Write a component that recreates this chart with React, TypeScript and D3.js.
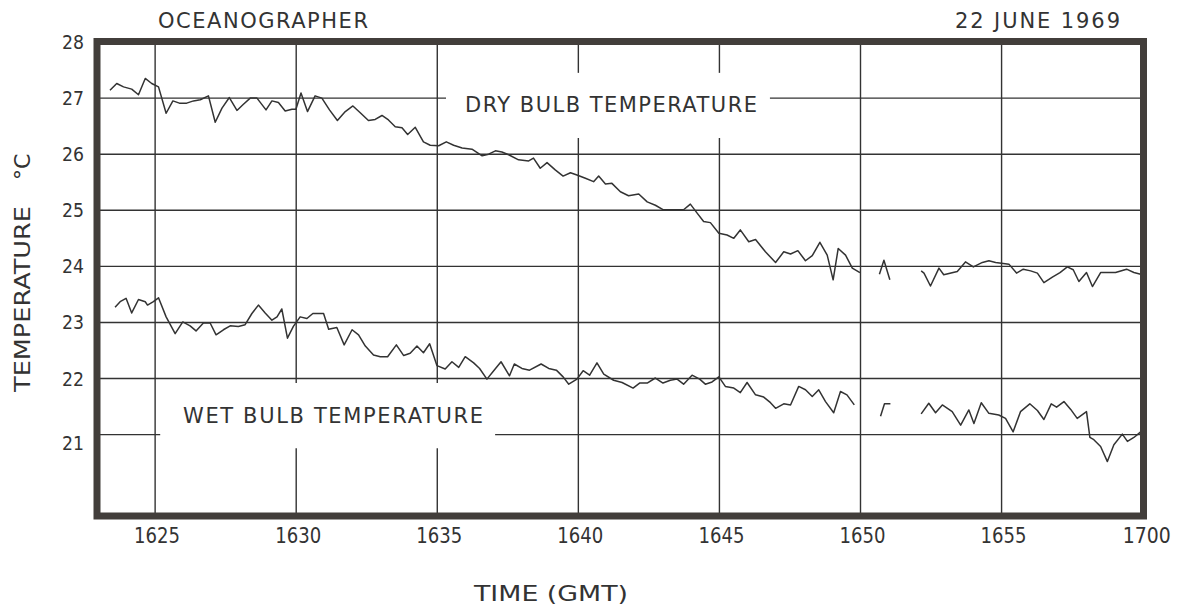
import React from "react";
import * as d3 from "d3";

// time in minutes after 16:00 GMT, temperature in °C; null = break in record
const dryTime: (number)[] = [
  23.40, 23.64, 23.88, 24.17, 24.41, 24.65, 24.88, 25.12, 25.39, 25.63, 25.86, 26.12, 26.36, 26.60, 26.89,
  27.13, 27.37, 27.63, 27.90, 28.13, 28.37, 28.61, 28.93, 29.14, 29.37, 29.61, 29.85, 29.99, 30.17, 30.40,
  30.67, 30.91, 31.18, 31.46, 31.74, 32.01, 32.27, 32.56, 32.80, 33.04, 33.27, 33.51, 33.75, 33.95, 34.22,
  34.51, 34.75, 35.05, 35.32, 35.58, 35.88, 36.23, 36.59, 36.82, 37.06, 37.29, 37.53, 37.88, 38.24, 38.41,
  38.65, 38.89, 39.18, 39.46, 39.72, 39.95, 40.25, 40.54, 40.72, 40.96, 41.19, 41.49, 41.78, 42.14, 42.44,
  42.73, 43.00, 43.32, 43.73, 43.97, 44.21, 44.44, 44.68, 44.98, 45.27, 45.51, 45.74, 46.04, 46.28, 46.63,
  46.99, 47.28, 47.52, 47.78, 48.05, 48.29, 48.56, 48.82, 49.03, 49.21, 49.47, 49.71, 49.98,
  50.30,
  50.67, 50.83, 51.04,
  51.60,
  52.15, 52.25, 52.48, 52.78, 52.95, 53.43, 53.72, 54.00, 54.32, 54.55, 54.79, 55.26, 55.53, 55.77, 56.03,
  56.27, 56.50, 56.80, 57.07, 57.33, 57.54, 57.74, 58.01, 58.22, 58.51, 59.04, 59.43, 59.69, 59.93,
];
const dryTemp: (number | null)[] = [
  27.14, 27.26, 27.20, 27.16, 27.06, 27.35, 27.26, 27.20, 26.73, 26.95, 26.91, 26.91, 26.95, 26.97, 27.04,
  26.57, 26.82, 27.01, 26.78, 26.89, 27.00, 27.00, 26.79, 26.95, 26.92, 26.77, 26.80, 26.80, 27.09, 26.76,
  27.04, 27.00, 26.79, 26.60, 26.76, 26.86, 26.74, 26.60, 26.62, 26.69, 26.61, 26.49, 26.47, 26.35, 26.48,
  26.22, 26.16, 26.15, 26.22, 26.16, 26.11, 26.09, 25.97, 26.00, 26.06, 26.04, 25.99, 25.90, 25.88, 25.93,
  25.75, 25.85, 25.72, 25.61, 25.67, 25.63, 25.57, 25.51, 25.61, 25.47, 25.48, 25.33, 25.26, 25.29, 25.15,
  25.09, 25.01, 25.01, 25.01, 25.11, 24.95, 24.80, 24.78, 24.59, 24.56, 24.50, 24.65, 24.44, 24.48, 24.26,
  24.07, 24.26, 24.22, 24.28, 24.10, 24.19, 24.43, 24.20, 23.76, 24.32, 24.20, 23.97, 23.89,
  null,
  23.86, 24.11, 23.76,
  null,
  23.92, 23.88, 23.65, 23.97, 23.85, 23.91, 24.08, 23.99, 24.07, 24.10, 24.07, 24.04, 23.88, 23.95, 23.92,
  23.88, 23.71, 23.81, 23.89, 23.99, 23.94, 23.73, 23.89, 23.64, 23.89, 23.89, 23.95, 23.89, 23.86,
];

const wetTime: number[] = [
  23.58, 23.76, 23.97, 24.17, 24.41, 24.65, 24.73, 24.94, 25.12, 25.39, 25.71, 25.98, 26.24, 26.45, 26.71,
  26.95, 27.16, 27.42, 27.66, 27.95, 28.19, 28.43, 28.66, 28.90, 29.14, 29.32, 29.49, 29.69, 29.90, 30.14,
  30.38, 30.59, 30.97, 31.15, 31.44, 31.70, 31.98, 32.21, 32.45, 32.74, 32.98, 33.24, 33.55, 33.81, 34.04,
  34.28, 34.51, 34.73, 34.99, 35.28, 35.52, 35.76, 35.99, 36.29, 36.50, 36.76, 37.00, 37.26, 37.56, 37.73,
  38.00, 38.27, 38.68, 38.95, 39.22, 39.46, 39.66, 39.95, 40.17, 40.40, 40.66, 40.90, 41.25, 41.55, 41.94,
  42.17, 42.44, 42.73, 43.00, 43.26, 43.50, 43.73, 44.03, 44.30, 44.50, 44.74, 44.98, 45.21, 45.51, 45.74,
  45.98, 46.28, 46.57, 46.81, 46.99, 47.28, 47.52, 47.81, 48.05, 48.29, 48.52, 48.76, 49.05, 49.29, 49.52,
  49.78,
  50.30,
  50.71, 50.85, 51.06,
  51.60,
  52.15, 52.42, 52.66, 52.90, 53.25, 53.55, 53.84, 54.02, 54.28, 54.55, 54.90, 55.14, 55.41, 55.67, 56.00,
  56.27, 56.50, 56.76, 56.95, 57.21, 57.45, 57.68, 58.01, 58.13, 58.27, 58.51, 58.75, 58.98, 59.28, 59.46,
  59.69, 59.93,
];
const wetTemp: (number | null)[] = [
  23.27, 23.37, 23.43, 23.17, 23.41, 23.37, 23.31, 23.37, 23.44, 23.10, 22.80, 23.01, 22.94, 22.85, 22.99,
  22.99, 22.78, 22.87, 22.94, 22.93, 22.96, 23.16, 23.31, 23.17, 23.04, 23.10, 23.24, 22.72, 22.93, 23.10,
  23.07, 23.16, 23.16, 22.88, 22.91, 22.60, 22.87, 22.78, 22.58, 22.42, 22.39, 22.39, 22.60, 22.41, 22.45,
  22.58, 22.46, 22.62, 22.23, 22.17, 22.30, 22.20, 22.39, 22.28, 22.18, 21.99, 22.14, 22.30, 22.05, 22.26,
  22.18, 22.15, 22.26, 22.18, 22.15, 22.03, 21.90, 21.99, 22.14, 22.06, 22.28, 22.08, 21.97, 21.93, 21.83,
  21.92, 21.92, 22.01, 21.92, 21.97, 21.99, 21.90, 22.06, 21.99, 21.90, 21.94, 22.03, 21.86, 21.83, 21.75,
  21.93, 21.71, 21.67, 21.57, 21.47, 21.55, 21.53, 21.86, 21.80, 21.68, 21.80, 21.59, 21.39, 21.77, 21.71,
  21.53,
  null,
  21.33, 21.55, 21.55,
  null,
  21.37, 21.56, 21.39, 21.53, 21.41, 21.17, 21.44, 21.20, 21.57, 21.38, 21.35, 21.29, 21.05, 21.41, 21.55,
  21.43, 21.27, 21.55, 21.49, 21.59, 21.45, 21.29, 21.41, 20.95, 20.91, 20.79, 20.52, 20.82, 21.01, 20.88,
  20.95, 21.05,
];

const yTicks: number[] = [28, 27, 26, 25, 24, 23, 22, 21];
const xTicks: number[] = [25, 30, 35, 40, 45, 50, 55, 60];
const xTickLabels: string[] = ["1625", "1630", "1635", "1640", "1645", "1650", "1655", "1700"];
const timeDomain: [number, number] = [22.94, 60.03];
const tempDomain: [number, number] = [19.55, 28];

// gridline interruptions around the in-plot labels
const dryLabelGapTimes: number[] = [40, 45];
const dryLabelGapTemps: [number, number] = [27.45, 26.29];
const wetLabelGapTimes: number[] = [30, 35];
const wetLabelGapTemps: [number, number] = [21.92, 20.76];
const gridGap27: [number, number] = [35.31, 46.79];
const gridGap21: [number, number] = [25.18, 37.05];

const INK = "#333";
const FRAME = "#423e3b";
const FONT = "'DejaVu Sans', sans-serif";

export default function App() {
  const left = 97, right = 1143.5, top = 41.5, bottom = 516;
  const x = d3.scaleLinear().domain(timeDomain).range([left, right]);
  const y = d3.scaleLinear().domain(tempDomain).range([bottom, 42]);

  type P = { t: number; v: number | null };
  const dry: P[] = dryTime.map((t, i) => ({ t, v: dryTemp[i] }));
  const wet: P[] = wetTime.map((t, i) => ({ t, v: wetTemp[i] }));
  const line = d3
    .line<P>()
    .defined((d) => d.v != null)
    .x((d) => x(d.t))
    .y((d) => y(d.v as number));

  const vLines: JSX.Element[] = [];
  xTicks.forEach((t) => {
    if (t >= 60) return;
    const px = x(t);
    if (dryLabelGapTimes.includes(t)) {
      vLines.push(<line key={`v${t}a`} x1={px} x2={px} y1={top} y2={y(dryLabelGapTemps[0])} />);
      vLines.push(<line key={`v${t}b`} x1={px} x2={px} y1={y(dryLabelGapTemps[1])} y2={bottom} />);
    } else if (wetLabelGapTimes.includes(t)) {
      vLines.push(<line key={`v${t}a`} x1={px} x2={px} y1={top} y2={y(wetLabelGapTemps[0])} />);
      vLines.push(<line key={`v${t}b`} x1={px} x2={px} y1={y(wetLabelGapTemps[1])} y2={bottom} />);
    } else {
      vLines.push(<line key={`v${t}`} x1={px} x2={px} y1={top} y2={bottom} />);
    }
  });

  const hLines: JSX.Element[] = [];
  yTicks.forEach((v) => {
    if (v >= 28) return;
    const py = y(v);
    if (v === 27) {
      hLines.push(<line key={`h${v}a`} x1={left} x2={x(gridGap27[0])} y1={py} y2={py} />);
      hLines.push(<line key={`h${v}b`} x1={x(gridGap27[1])} x2={right} y1={py} y2={py} />);
    } else if (v === 21) {
      hLines.push(<line key={`h${v}a`} x1={left} x2={x(gridGap21[0])} y1={py} y2={py} />);
      hLines.push(<line key={`h${v}b`} x1={x(gridGap21[1])} x2={right} y1={py} y2={py} />);
    } else {
      hLines.push(<line key={`h${v}`} x1={left} x2={right} y1={py} y2={py} />);
    }
  });

  const sq = "spacingAndGlyphs";
  const sp = "spacing";

  return (
    <svg
      width={1189}
      height={609}
      style={{ position: "absolute", left: 0, top: 0, background: "#fff" }}
      fontFamily={FONT}
    >
      <rect x={0} y={0} width={1189} height={609} fill="#fff" />
      <g stroke={INK} strokeWidth={1.4}>
        {vLines}
        {hLines}
      </g>
      <path d={line(dry) || ""} fill="none" stroke={INK} strokeWidth={1.5} strokeLinejoin="round" />
      <path d={line(wet) || ""} fill="none" stroke={INK} strokeWidth={1.5} strokeLinejoin="round" />
      <rect
        x={left}
        y={top}
        width={right - left}
        height={bottom - top}
        fill="none"
        stroke={FRAME}
        strokeWidth={7}
      />
      <g fill={INK} fontSize={20} textAnchor="end">
        {yTicks.map((v) => (
          <text key={v} x={84} y={y(v) + (v === 21 ? 15 : 7)} textLength={22} lengthAdjust={sq}>
            {v}
          </text>
        ))}
      </g>
      <g fill={INK} fontSize={22} textAnchor="middle">
        {xTicks.map((t, i) => (
          <text
            key={t}
            x={x(t) + (t === 60 ? 4 : 2)}
            y={543}
            textLength={t === 60 ? 48 : 46}
            lengthAdjust={sq}
          >
            {xTickLabels[i]}
          </text>
        ))}
      </g>
      <g fill={INK} fontSize={21}>
        <text x={158} y={28} textLength={210} lengthAdjust={sp}>OCEANOGRAPHER</text>
        <text x={955} y={28} textLength={165} lengthAdjust={sp}>22 JUNE 1969</text>
        <text x={465} y={112} textLength={292} lengthAdjust={sp}>DRY BULB TEMPERATURE</text>
        <text x={183} y={423} textLength={300} lengthAdjust={sp}>WET BULB TEMPERATURE</text>
      </g>
      <g fill={INK} fontSize={22}>
        <text x={474} y={601} textLength={154} lengthAdjust={sq}>TIME (GMT)</text>
        <g transform="translate(30,392) rotate(-90)">
          <text x={0} y={0} textLength={186} lengthAdjust={sq}>TEMPERATURE</text>
          <text x={212} y={0}>°C</text>
        </g>
      </g>
    </svg>
  );
}
